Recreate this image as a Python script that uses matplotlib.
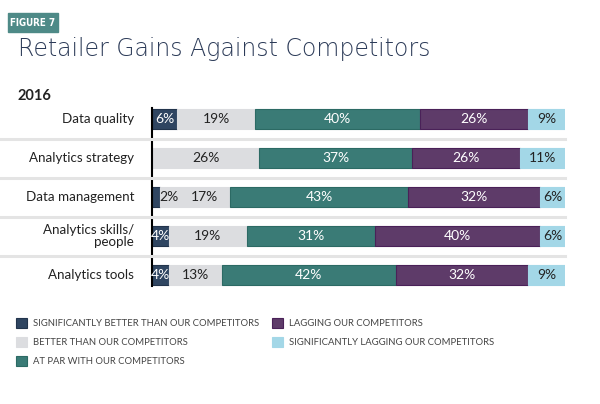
import matplotlib
matplotlib.use("Agg")
import matplotlib.pyplot as plt
from matplotlib.patches import Rectangle
from matplotlib.lines import Line2D
import numpy as np

categories = ["Data quality", "Analytics strategy", "Data management", "Analytics skills/\npeople", "Analytics tools"]
series_names = ["SIGNIFICANTLY BETTER THAN OUR COMPETITORS", "BETTER THAN OUR COMPETITORS",
                "AT PAR WITH OUR COMPETITORS", "LAGGING OUR COMPETITORS",
                "SIGNIFICANTLY LAGGING OUR COMPETITORS"]
sig_better = [6, 0, 2, 4, 4]
better = [19, 26, 17, 19, 13]
at_par = [40, 37, 43, 31, 42]
lagging = [26, 26, 32, 40, 32]
sig_lagging = [9, 11, 6, 6, 9]

colors = ["#2f4561", "#dcdde0", "#3a7b76", "#5e3b69", "#a3d7e7"]
edge = ["#22344c", "#dcdde0", "#2c6a64", "#4a2158", "#a3d7e7"]
txtcol = ["white", "#222222", "white", "white", "#222222"]

W, H = 600, 404
fig = plt.figure(figsize=(W/100, H/100), dpi=100)
font = "Lato"

ax = fig.add_axes([152/W, 1-294.5/H, 413/W, 195/H])
series = [sig_better, better, at_par, lagging, sig_lagging]
y = np.arange(len(categories))
left = np.zeros(len(categories))
handles = []
for i, vals in enumerate(series):
    vals = np.array(vals, dtype=float)
    bc = ax.barh(y, vals, left=left, height=0.49, color=colors[i], edgecolor=edge[i], linewidth=0.8, label=series_names[i])
    handles.append(bc)
    for j, v in enumerate(vals):
        if v <= 0:
            continue
        cx = left[j] + v/2
        c = txtcol[i]
        if v < 3:
            cx = left[j] + v + 2.2
            c = "#222222"
        elif i > 0 and 0 < series[i-1][j] < 3:
            cx += 2.2
        ax.text(cx, y[j], f"{int(v)}%", ha="center", va="center", color=c, fontsize=10, family=font)
    left += vals

ax.set_xlim(0, 100)
ax.set_ylim(4.5, -0.5)
ax.axis("off")
ax.plot([0, 0], [-0.27, 4.27], color="black", lw=1.5, clip_on=False)

for j, c in enumerate(categories):
    ax.text(-4.3, y[j], c, ha="right", va="center", fontsize=9.6, family=font, color="#222222", linespacing=0.95)

# separators
for k in range(4):
    yp = 1 - (139 + 39*k)/H
    fig.add_artist(Line2D([0, 565/W], [yp, yp], color="#e4e4e4", lw=2.2, transform=fig.transFigure))

# figure tag
fig.add_artist(Rectangle((8/W, 1-32/H), 50/W, 19/H, transform=fig.transFigure, color="#4e8a87"))
fig.text(33/W, 1-22.5/H, "FIGURE 7", ha="center", va="center", color="white", fontsize=7,
         family="DejaVu Sans", stretch="condensed", weight="bold")

fig.text(18/W, 1-49/H, "Retailer Gains Against Competitors", ha="left", va="center", fontsize=17,
         family="DejaVu Sans", color="#2c3b58", weight="light")
fig.text(18/W, 1-96/H, "2016", ha="left", va="center", fontsize=10.5, family=font, weight="bold", color="#222222")

leg = fig.legend(handles=handles, labels=series_names, loc="upper left", bbox_to_anchor=(16/W, 1-318/H),
                 ncol=2, frameon=False, prop={"family": font, "size": 6.8},
                 handlelength=1.2, handleheight=1.25, handletextpad=0.6, columnspacing=1.35,
                 labelspacing=0.95, borderpad=0, borderaxespad=0)
for t in leg.get_texts():
    t.set_color("#444444")

fig.savefig("out.png", dpi=100)
